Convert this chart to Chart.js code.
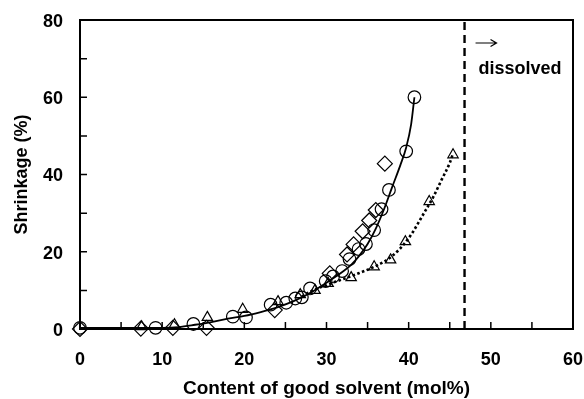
<!DOCTYPE html>
<html>
<head>
<meta charset="utf-8">
<script src="https://cdn.jsdelivr.net/npm/chart.js"></script>
<style>
  html, body { margin: 0; padding: 0; background: #fff; }
</style>
</head>
<body>
<canvas id="shrinkChart" width="584" height="399"></canvas>
<script>
// Measured points, three sample sets
var circleX = [0, 9.2, 13.8, 18.6, 20.2, 23.2, 25.1, 26.2, 27.0, 28.0, 29.9, 30.8, 31.9, 32.8, 33.9, 34.8, 35.8, 36.7, 37.6, 39.7, 40.7];
var circleY = [0.3, 0.3, 1.3, 3.2, 3.0, 6.3, 6.8, 7.9, 8.2, 10.5, 12.4, 13.6, 15.0, 18.1, 20.7, 22.0, 25.6, 31.0, 36.0, 46.0, 60.0];

var diamondX = [0, 7.4, 11.3, 15.4, 23.7, 30.4, 32.5, 33.3, 34.4, 35.2, 36.0, 37.1];
var diamondY = [0, 0.1, 0.3, 0.3, 4.9, 14.4, 19.3, 21.9, 25.3, 28.1, 30.8, 42.8];

var triangleX = [7.5, 11.5, 15.5, 19.8, 24.1, 26.8, 28.6, 30.2, 33.0, 35.8, 37.8, 39.6, 42.5, 45.4];
var triangleY = [0.6, 1.1, 3.0, 5.1, 7.1, 8.9, 10.0, 11.8, 13.3, 16.1, 17.9, 22.6, 33.0, 45.1];

// Guide curves
var solidX = [0, 5, 10, 12, 14, 16, 18, 20, 22, 24, 26, 28, 30, 31, 32, 33, 34, 35, 36, 37, 38, 39, 39.7, 40.3, 40.7];
var solidY = [0.3, 0.3, 0.3, 0.5, 1.1, 1.8, 2.7, 3.4, 4.4, 5.6, 7.2, 9.3, 12.0, 13.4, 14.9, 16.6, 19.0, 22.0, 26.0, 31.0, 36.8, 42.5, 47.0, 53.0, 60.0];

var dottedX = [27, 28, 30, 32, 34, 36, 38, 40, 42, 43, 44, 45, 45.4];
var dottedY = [8.4, 9.6, 11.4, 12.9, 14.5, 16.3, 18.9, 23.5, 30.5, 34.2, 38.6, 43.0, 45.5];

// Solvent content above which the gel dissolves
var dissolveAt = 46.8;

// Axis labels and tick marks
var xLabels = [0, 10, 20, 30, 40, 50, 60];
var yLabels = [0, 20, 40, 60, 80];
var xMarks = [5, 10, 15, 20, 25, 30, 35, 40, 45, 50, 55];
var yMarks = [10, 20, 30, 40, 50, 60, 70];

function pairs(xs, ys) {
    return xs.map(function (x, i) { return { x: x, y: ys[i] }; });
}

var boldFont = function (size) {
    return { family: 'Liberation Sans', size: size, weight: 'bold', lineHeight: 1.2 };
};

// Box frame, inward ticks and the "dissolved" note
var framePlugin = {
    id: 'frame',
    afterDraw: function (chart) {
        var g = chart.ctx, a = chart.chartArea;
        var x = chart.scales.x, y = chart.scales.y;
        g.save();
        g.setLineDash([]);
        g.globalAlpha = 1;
        g.strokeStyle = '#000000';
        g.lineWidth = 2;
        g.beginPath();
        g.moveTo(a.left, a.top);
        g.lineTo(a.right, a.top);
        g.lineTo(a.right, a.bottom);
        g.lineTo(a.left, a.bottom);
        g.closePath();
        g.stroke();

        g.lineWidth = 1.5;
        g.beginPath();
        xMarks.forEach(function (v) {
            var px = x.getPixelForValue(v);
            g.moveTo(px, a.bottom);
            g.lineTo(px, a.bottom - 7);
        });
        yMarks.forEach(function (v) {
            var py = y.getPixelForValue(v);
            g.moveTo(a.left, py);
            g.lineTo(a.left + 7, py);
        });
        g.stroke();

        // arrow pointing into the dissolved region
        var bx = x.getPixelForValue(dissolveAt);
        g.lineWidth = 1.2;
        g.beginPath();
        g.moveTo(bx + 11, 43);
        g.lineTo(bx + 31, 43);
        g.moveTo(bx + 26, 39.5);
        g.lineTo(bx + 32, 43);
        g.lineTo(bx + 26, 46.5);
        g.stroke();

        g.fillStyle = '#000000';
        g.textBaseline = 'middle';
        g.textAlign = 'left';
        g.font = 'bold 18px "Liberation Sans"';
        g.fillText('dissolved', bx + 14, 69);
        g.restore();
    }
};

var ctx = document.getElementById('shrinkChart').getContext('2d');
var myChart = new Chart(ctx, {
    type: 'scatter',
    data: {
        datasets: [{
            data: pairs(solidX, solidY),
            showLine: true,
            borderColor: '#000',
            borderWidth: 1.8,
            pointRadius: 0,
            cubicInterpolationMode: 'monotone'
        }, {
            data: pairs(dottedX, dottedY),
            showLine: true,
            borderColor: '#000',
            borderWidth: 2.6,
            borderDash: [2.6, 2.4],
            pointRadius: 0,
            cubicInterpolationMode: 'monotone'
        }, {
            data: [{ x: dissolveAt, y: 0 }, { x: dissolveAt, y: 80 }],
            showLine: true,
            borderColor: '#000',
            borderWidth: 2.4,
            borderDash: [8, 5],
            pointRadius: 0
        }, {
            data: pairs(circleX, circleY),
            pointStyle: 'circle',
            pointRadius: 6.3,
            pointBorderWidth: 1.2,
            pointBorderColor: '#000',
            pointBackgroundColor: 'transparent',
            clip: false
        }, {
            data: pairs(diamondX, diamondY),
            pointStyle: 'rectRot',
            pointRadius: 7.5,
            pointBorderWidth: 1.2,
            pointBorderColor: '#000',
            pointBackgroundColor: 'transparent',
            clip: false
        }, {
            data: pairs(triangleX, triangleY),
            pointStyle: 'triangle',
            pointRadius: 6,
            pointBorderWidth: 1.2,
            pointBorderColor: '#000',
            pointBackgroundColor: 'transparent',
            clip: false
        }]
    },
    options: {
        responsive: false,
        animation: false,
        events: [],
        layout: { padding: { top: 20, right: 11, left: 0, bottom: 0 } },
        plugins: {
            legend: { display: false },
            tooltip: { enabled: false }
        },
        scales: {
            x: {
                type: 'linear',
                min: 0,
                max: 60,
                grid: { display: false, drawTicks: false },
                border: { display: false },
                afterBuildTicks: function (s) { s.ticks = xLabels.map(function (v) { return { value: v }; }); },
                afterFit: function (s) { s.height = 70; s.paddingLeft = 0; s.paddingRight = 0; },
                ticks: { padding: 20, color: '#000', font: boldFont(18) },
                title: {
                    display: true,
                    text: 'Content of good solvent (mol%)',
                    color: '#000',
                    font: { family: 'Liberation Sans', size: 19, weight: 'bold', lineHeight: 1 },
                    padding: { top: 0, bottom: 1 }
                }
            },
            y: {
                type: 'linear',
                min: 0,
                max: 80,
                grid: { display: false, drawTicks: false },
                border: { display: false },
                afterBuildTicks: function (s) { s.ticks = yLabels.map(function (v) { return { value: v }; }); },
                afterFit: function (s) { s.width = 80; s.paddingTop = 0; s.paddingBottom = 0; },
                ticks: { padding: 17, color: '#000', font: boldFont(18), labelOffset: 2 },
                title: {
                    display: true,
                    text: 'Shrinkage (%)',
                    color: '#000',
                    font: { family: 'Liberation Sans', size: 18, weight: 'bold', lineHeight: 1 },
                    padding: { top: 13, bottom: 0 }
                }
            }
        }
    },
    plugins: [framePlugin]
});
</script>
</body>
</html>
